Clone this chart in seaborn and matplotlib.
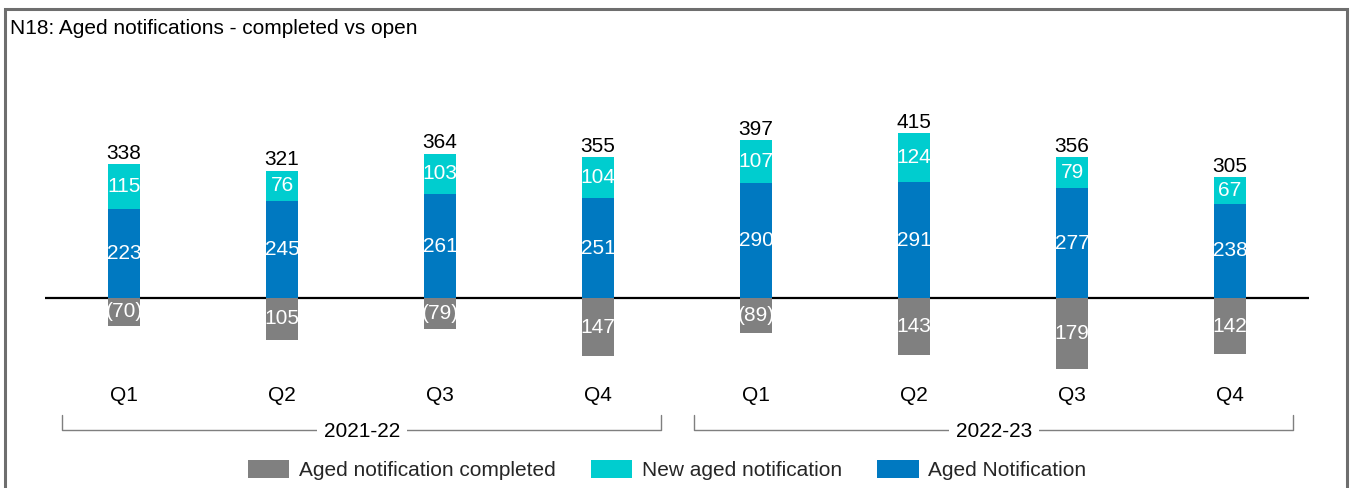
import matplotlib
matplotlib.use("Agg")
import matplotlib.pyplot as plt
import matplotlib.transforms as mtransforms
from matplotlib.patches import Rectangle, Patch
from matplotlib.lines import Line2D
import seaborn as sns
import pandas as pd
import numpy as np

# ---- data ----
periods = ["2021-22", "2021-22", "2021-22", "2021-22", "2022-23", "2022-23", "2022-23", "2022-23"]
quarters = ["Q1", "Q2", "Q3", "Q4", "Q1", "Q2", "Q3", "Q4"]
aged_notification = [223, 245, 261, 251, 290, 291, 277, 238]
new_aged = [115, 76, 103, 104, 107, 124, 79, 67]
completed = [-70, -105, -79, -147, -89, -143, -179, -142]
completed_labels = ["(70)", "105", "(79)", "147", "(89)", "143", "179", "142"]
totals = [338, 321, 364, 355, 397, 415, 356, 305]
year_groups = ["2021-22", "2022-23"]

C_BLUE = "#0079C1"
C_CYAN = "#00CDCF"
C_GRAY = "#808080"

sns.set_theme(style="white")
plt.rcParams["font.family"] = ["Liberation Sans", "DejaVu Sans"]

W, H = 1352, 488
fig = plt.figure(figsize=(W / 100, H / 100), dpi=100)
ax_left, ax_right = 45 / W, 1309 / W
ax_top, ax_bot = 40 / H, 375 / H
ax = fig.add_axes([ax_left, 1 - ax_bot, ax_right - ax_left, ax_bot - ax_top])

ids = [f"{p} {q}" for p, q in zip(periods, quarters)]
df = pd.DataFrame({
    "id": ids,
    "blue": aged_notification,
    "cyan": new_aged,
    "total": [a + b for a, b in zip(aged_notification, new_aged)],
    "completed": completed,
})

bw = 0.2
sns.barplot(data=df, x="id", y="total", order=ids, color=C_CYAN, width=bw,
            saturation=1, linewidth=0, ax=ax, zorder=3)
sns.barplot(data=df, x="id", y="blue", order=ids, color=C_BLUE, width=bw,
            saturation=1, linewidth=0, ax=ax, zorder=3)
sns.barplot(data=df, x="id", y="completed", order=ids, color=C_GRAY, width=bw,
            saturation=1, linewidth=0, ax=ax, zorder=3)

patches = ax.patches
cyan_p = patches[0:8]
blue_p = patches[8:16]
gray_p = patches[16:24]

ax.axhline(0, color="black", lw=1.6, zorder=2)

ax.set_xlim(-0.5, 7.5)
ax.set_ylim(-194, 650)

fs = 15
for i in range(8):
    t = ax.text(i, aged_notification[i] / 2, str(aged_notification[i]), ha="center",
                va="center", color="white", fontsize=fs, zorder=5)
    t.set_clip_path(blue_p[i])
    t = ax.text(i, aged_notification[i] + new_aged[i] / 2, str(new_aged[i]), ha="center",
                va="center", color="white", fontsize=fs, zorder=5)
    t.set_clip_path(cyan_p[i])
    t = ax.text(i, completed[i] / 2, completed_labels[i], ha="center",
                va="center", color="white", fontsize=fs, zorder=5)
    t.set_clip_path(gray_p[i])
    ax.text(i, totals[i] + 3, str(totals[i]), ha="center", va="bottom",
            color="black", fontsize=fs, zorder=5)

ax.set_xticks(range(8))
ax.set_xticklabels(quarters, fontsize=fs, color="black")
ax.tick_params(axis="x", length=0, pad=8)
ax.set_yticks([])
ax.set_xlabel("")
ax.set_ylabel("")
for s in ax.spines.values():
    s.set_visible(False)

# year brackets
btr = mtransforms.blended_transform_factory(ax.transData, fig.transFigure)
y_top = 1 - 415 / H
y_line = 1 - 430 / H
for g in year_groups:
    idx = [k for k, p in enumerate(periods) if p == g]
    x0 = idx[0] - 0.39
    x1 = idx[-1] + 0.40
    ln = Line2D([x0, x0, x1, x1], [y_top, y_line, y_line, y_top], transform=btr,
                color="#7f7f7f", lw=1.0, clip_on=False)
    fig.add_artist(ln)
    fig.text((x0 + x1) / 2, 1 - 437 / H, g, transform=btr, ha="center",
             va="baseline", fontsize=fs, color="black",
             bbox=dict(facecolor="white", edgecolor="none", pad=5))

# title
fig.text(10 / W, 1 - 34 / H, "N18: Aged notifications - completed vs open",
         ha="left", va="baseline", fontsize=fs, color="black")

# legend
handles = [Patch(facecolor=C_GRAY, edgecolor="none"),
           Patch(facecolor=C_CYAN, edgecolor="none"),
           Patch(facecolor=C_BLUE, edgecolor="none")]
labels = ["Aged notification completed", "New aged notification", "Aged Notification"]
fig.legend(handles, labels, ncol=3, loc="center", bbox_to_anchor=(667 / W, 1 - 470 / H),
           frameon=False, fontsize=fs, handlelength=2.0, handleheight=0.95,
           handletextpad=0.45, columnspacing=1.7, borderpad=0, borderaxespad=0)

# outer border
border = Rectangle((5 / W, -0.1), (1347 - 5) / W, 1 - 9 / H + 0.1, transform=fig.transFigure,
                   fill=False, edgecolor="#6e6e6e", lw=2.2, clip_on=False)
fig.add_artist(border)

fig.savefig("out.png", dpi=100, facecolor="white")
